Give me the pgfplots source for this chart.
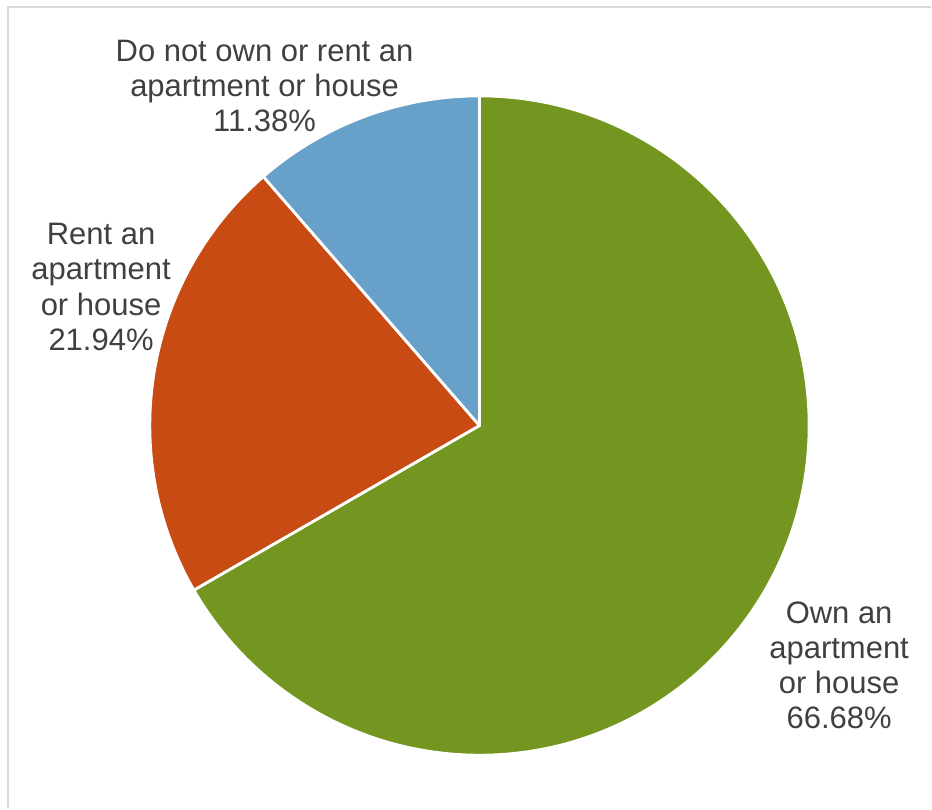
\documentclass[border=0pt]{standalone}
\usepackage{fontspec}
\setmainfont{Liberation Sans}
\usepackage{pgfplots}
\usepackage{pgfplotstable}
\pgfplotsset{compat=1.18}

\definecolor{ownc}{HTML}{739620}
\definecolor{rentc}{HTML}{C84B14}
\definecolor{nonec}{HTML}{67A0C8}
\definecolor{labelc}{HTML}{404040}
\definecolor{framec}{HTML}{D9D9D9}

% share of respondents, in percent
\pgfplotstableread{
key  value
own  66.68
rent 21.94
none 11.38
}\piedata

\begin{document}
\begin{tikzpicture}[
    pielabel/.style={font=\fontsize{15.5}{17.6}\selectfont, text=labelc, align=center, inner sep=0pt},
    slice/.style={draw=white, line width=1.4pt, line join=round},
]
\pgfplotstablegetelem{0}{value}\of\piedata \edef\vOwn{\pgfplotsretval}
\pgfplotstablegetelem{1}{value}\of\piedata \edef\vRent{\pgfplotsretval}
\pgfplotstablegetelem{2}{value}\of\piedata \edef\vNone{\pgfplotsretval}
% slices run clockwise from 12 o'clock
\pgfmathsetmacro\aOwn{90-3.6*\vOwn}
\pgfmathsetmacro\aRent{\aOwn-3.6*\vRent}
\pgfmathsetmacro\aNone{\aRent-3.6*\vNone}
\begin{axis}[
    hide axis,
    scale only axis,
    x=165pt, y=165pt,
    xmin=-1.4545, xmax=1.3697,
    ymin=-1.1606, ymax=1.2909,
    clip=false,
]
\path (rel axis cs:0,0) rectangle (rel axis cs:1,1);
\draw[framec, line width=1pt] (axis cs:-1.430,-1.1606) -- (axis cs:-1.430,1.270) -- (axis cs:1.3697,1.270);

\filldraw[slice, fill=ownc]
    (axis cs:0,0) -- (axis cs:0,1) arc[start angle=90, end angle=\aOwn, radius=165pt] -- cycle;
\filldraw[slice, fill=rentc]
    (axis cs:0,0) -- (axis cs:{cos(\aOwn)},{sin(\aOwn)}) arc[start angle=\aOwn, end angle=\aRent, radius=165pt] -- cycle;
\filldraw[slice, fill=nonec]
    (axis cs:0,0) -- (axis cs:{cos(\aRent)},{sin(\aRent)}) arc[start angle=\aRent, end angle=\aNone, radius=165pt] -- cycle;

\node[pielabel] at (axis cs:-0.652,1.030) {Do not own or rent an\\apartment or house\\\vNone\%};
\node[pielabel] at (axis cs:-1.148,0.420) {Rent an\\apartment\\or house\\\vRent\%};
\node[pielabel] at (axis cs:1.091,-0.728) {Own an\\apartment\\or house\\\vOwn\%};
\end{axis}
\end{tikzpicture}
\end{document}
